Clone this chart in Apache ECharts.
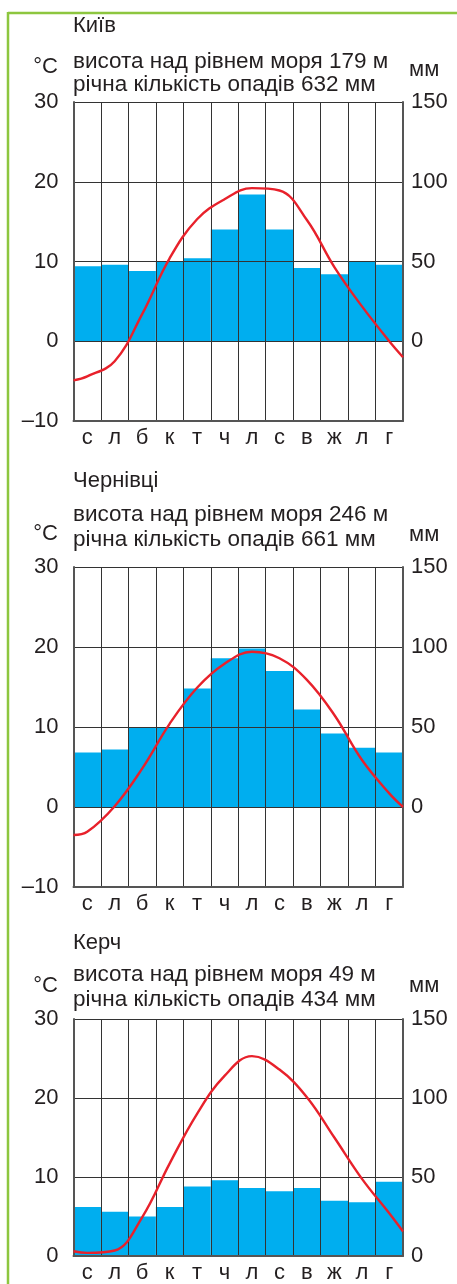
<!DOCTYPE html>
<html>
<head>
<meta charset="utf-8">
<script src="https://cdn.jsdelivr.net/npm/echarts@6/dist/echarts.min.js"></script>
<style>
  html, body { margin: 0; padding: 0; background: #fff; }
  #chart { width: 457px; height: 1284px; }
</style>
</head>
<body>
<div id="chart"></div>
<script>
// months (Ukrainian initials)
const months = ["с", "л", "б", "к", "т", "ч", "л", "с", "в", "ж", "л", "г"];
// x of the temperature curve: left edge, month centres, right edge
const curveX = [0, 0.5, 1.5, 2.5, 3.5, 4.5, 5.5, 6.5, 7.5, 8.5, 9.5, 10.5, 11.5, 12];

const stationNames = ["Київ", "Чернівці", "Керч"];
const stationHeights = [179, 246, 49];
const stationTotals = [632, 661, 434];

// precipitation, mm
const kyivPrecip = [47, 48, 44, 50, 52, 70, 92, 70, 46, 42, 50, 48];
const chernivtsiPrecip = [34, 36, 50, 50, 74, 93, 99, 85, 61, 46, 37, 34];
const kerchPrecip = [31, 28, 25, 31, 44, 48, 43, 41, 43, 35, 34, 47];

// temperature, °C (edge, 12 months, edge)
const kyivTemp = [-4.9, -4.4, -2.5, 3.4, 10.4, 15.3, 17.8, 19.2, 18.9, 15.2, 9.3, 4.4, 0.0, -2.0];
const chernivtsiTemp = [-3.5, -3.1, 0.1, 4.8, 10.4, 14.9, 17.9, 19.4, 18.6, 15.9, 11.5, 5.9, 1.7, 0.0];
const kerchTemp = [0.6, 0.4, 0.7, 4.9, 11.7, 18.0, 22.8, 25.3, 23.6, 20.1, 15.0, 9.8, 5.4, 3.1];

const tempTicksMin = [-10, -10, 0];

const precipList = [kyivPrecip, chernivtsiPrecip, kerchPrecip];
const tempList = [kyivTemp, chernivtsiTemp, kerchTemp];

// layout per panel
const panels = [
  { top: 102, height: 319, nameY: 15, line1Y: 50, line2Y: 73, unitY: 56, mmY: 59 },
  { top: 567, height: 320, nameY: 470, line1Y: 503, line2Y: 528, unitY: 523, mmY: 524 },
  { top: 1019, height: 239, nameY: 932, line1Y: 963, line2Y: 988, unitY: 975, mmY: 975 }
];

const font = "Liberation Sans, Arial, sans-serif";
const textColor = "#231f20";
const fs = 22;

const grid = [], xAxis = [], yAxis = [], series = [], title = [];

const txt = { fontSize: fs, fontWeight: "normal", color: textColor, fontFamily: font };
const headTxt = { fontSize: 22.5, fontWeight: "normal", color: textColor, fontFamily: font };

panels.forEach((p, i) => {
  grid.push({ left: 73.5, width: 329.5, top: p.top, height: p.height });

  title.push(
    { text: stationNames[i], left: 73, top: p.nameY, padding: 0, textStyle: txt },
    { text: "висота над рівнем моря " + stationHeights[i] + " м", left: 73, top: p.line1Y, padding: 0, textStyle: headTxt },
    { text: "річна кількість опадів " + stationTotals[i] + " мм", left: 73, top: p.line2Y, padding: 0, textStyle: headTxt },
    { text: "°C", right: 399, top: p.unitY, padding: 0, textStyle: txt },
    { text: "мм", left: 409, top: p.mmY, padding: 0, textStyle: txt }
  );

  // category axis for bars and vertical lines
  xAxis.push({
    type: "category",
    gridIndex: i,
    data: months,
    boundaryGap: true,
    z: 5,
    axisLine: { onZero: false, lineStyle: { color: "#555", width: 2 } },
    axisTick: { show: false },
    axisLabel: { margin: 6, fontSize: fs, color: textColor, fontFamily: font },
    splitLine: { show: true, lineStyle: { color: "#333", width: 1 } }
  });
  // value axis for the smooth temperature curve
  xAxis.push({ type: "value", gridIndex: i, min: 0, max: 12, show: false });

  const tMin = tempTicksMin[i];
  yAxis.push({
    type: "value",
    gridIndex: i,
    min: tMin,
    max: 30,
    interval: 10,
    z: 5,
    axisLine: { show: true, lineStyle: { color: "#555", width: 2 } },
    axisTick: { show: false },
    axisLabel: {
      margin: 15, fontSize: fs, color: textColor, fontFamily: font,
      formatter: v => (v < 0 ? "–" + Math.abs(v) : String(v))
    },
    splitLine: { show: true, lineStyle: { color: "#333", width: 1 } }
  });
  yAxis.push({
    type: "value",
    gridIndex: i,
    position: "right",
    min: tMin * 5,
    max: 150,
    interval: 50,
    z: 5,
    axisLine: { show: true, lineStyle: { color: "#555", width: 2 } },
    axisTick: { show: false },
    axisLabel: {
      margin: 8, fontSize: fs, color: textColor, fontFamily: font,
      formatter: v => (v < 0 ? "" : String(v))
    },
    splitLine: { show: false }
  });

  series.push({
    type: "bar",
    xAxisIndex: i * 2,
    yAxisIndex: i * 2 + 1,
    data: precipList[i],
    barWidth: "100%",
    barGap: 0,
    itemStyle: { color: "#00aeef" },
    silent: true,
    z: 2
  });
  series.push({
    type: "line",
    xAxisIndex: i * 2 + 1,
    yAxisIndex: i * 2,
    data: curveX.map((x, k) => [x, tempList[i][k]]),
    smooth: 0.4,
    showSymbol: false,
    lineStyle: { color: "#e8212b", width: 2.4 },
    silent: true,
    z: 10
  });
});

const chart = echarts.init(document.getElementById("chart"));
chart.setOption({
  animation: false,
  backgroundColor: "#fff",
  title,
  grid,
  xAxis,
  yAxis,
  series,
  graphic: [
    { type: "line", shape: { x1: 8, y1: 13, x2: 457, y2: 13 }, style: { stroke: "#8dc63f", lineWidth: 2.5 } },
    { type: "line", shape: { x1: 8, y1: 12, x2: 8, y2: 1284 }, style: { stroke: "#8dc63f", lineWidth: 2.5 } }
  ]
});
</script>
</body>
</html>
